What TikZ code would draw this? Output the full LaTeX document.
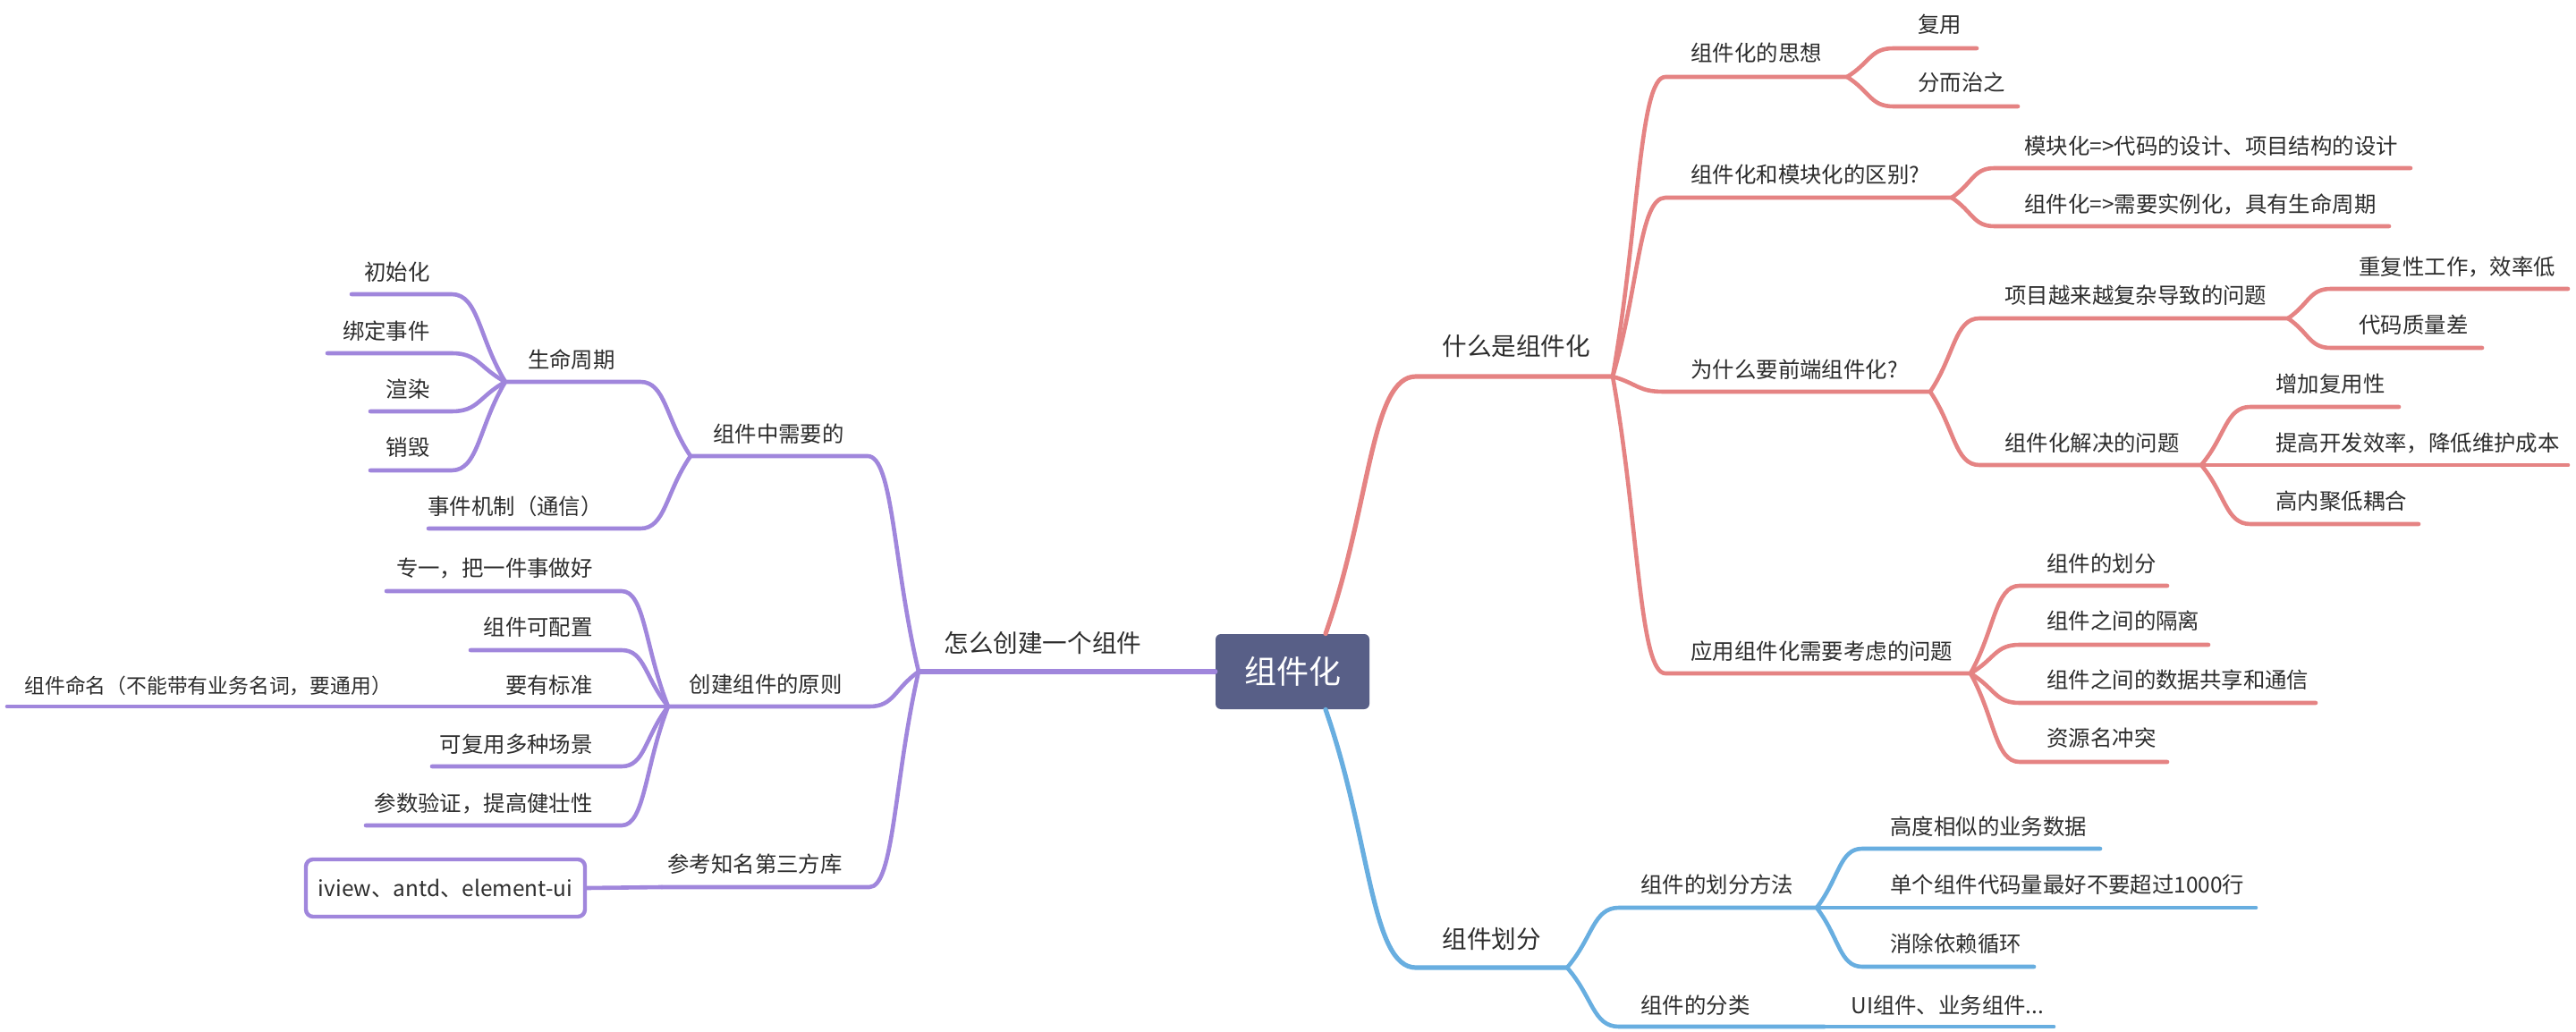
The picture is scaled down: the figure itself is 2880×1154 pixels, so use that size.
\documentclass[tikz,border=0pt]{standalone}
\usepackage{fontspec}
\setmainfont{Noto Sans CJK SC}
\usetikzlibrary{calc}
\definecolor{cred}{RGB}{229,131,131}
\definecolor{cblue}{RGB}{104,174,224}
\definecolor{cpurp}{RGB}{160,134,220}
\definecolor{croot}{RGB}{88,95,135}
\definecolor{ctext}{RGB}{45,45,45}
\tikzset{
  lab/.style={inner sep=0pt, text height=0.88em, text depth=0.12em, text=ctext, font=\fontsize{12.2}{15}\selectfont},
  labA/.style={lab, font=\fontsize{13.8}{17}\selectfont},
  rootbox/.style={fill=croot, rounded corners=3pt, minimum width=86pt, minimum height=42pt, inner sep=0pt, text=white, font=\fontsize{18}{22}\selectfont},
  libbox/.style={draw=cpurp, line width=2.2pt, fill=white, rounded corners=4pt, minimum width=156pt, minimum height=32pt, inner sep=0pt, text=ctext, font=\fontsize{12.2}{15}\selectfont},
  redA/.style={draw=cred, line width=2.6pt},
  redB/.style={draw=cred, line width=2.3pt},
  blueA/.style={draw=cblue, line width=2.6pt},
  blueB/.style={draw=cblue, line width=2.3pt},
  purA/.style={draw=cpurp, line width=2.8pt},
  purB/.style={draw=cpurp, line width=2.3pt},
}
\newcommand\mmconn[4]{\draw[#1] (#2) .. controls ($(#2)!0.5!(#3)$) and ($(#3)!0.5!(#2|-#3)$) .. (#3) -- (#4);}
\begin{document}
\begin{tikzpicture}[x=0.5pt,y=-0.5pt, line cap=round, line join=round]
\useasboundingbox[fill=white] (0,0) rectangle (2880,1154);

% root
\node[rootbox] (root) at (1445,751) {组件化};
\coordinate (rootT) at ($(root.north)+(37,0)$);
\coordinate (rootB) at ($(root.south)+(37,0)$);

% ---------------- red branch ----------------
\coordinate (r0s) at (1583,421); \coordinate (rJ) at (1803,421);
\mmconn{redA}{rootT}{r0s}{rJ}
\node[labA, anchor=west] (r0l) at (1612,390) {什么是组件化};

\coordinate (r1s) at (1862,86);  \coordinate (r1e) at (2065,86);
\coordinate (r2s) at (1862,221); \coordinate (r2e) at (2182,221);
\coordinate (r3s) at (1860,438); \coordinate (r3e) at (2158,438);
\coordinate (r4s) at (1862,753); \coordinate (r4e) at (2203,753);
\mmconn{redB}{rJ}{r1s}{r1e}
\mmconn{redB}{rJ}{r2s}{r2e}
\mmconn{redB}{rJ}{r3s}{r3e}
\mmconn{redB}{rJ}{r4s}{r4e}
\node[lab, anchor=west] (r1l) at (1890,61) {组件化的思想};
\node[lab, anchor=west] (r2l) at (1890,197) {组件化和模块化的区别?};
\node[lab, anchor=west] (r3l) at (1890,415) {为什么要前端组件化?};
\node[lab, anchor=west] (r4l) at (1890,730) {应用组件化需要考虑的问题};

\coordinate (r11s) at (2117,54);  \coordinate (r11e) at (2210,54);
\coordinate (r12s) at (2117,119); \coordinate (r12e) at (2256,119);
\mmconn{redB}{r1e}{r11s}{r11e}
\mmconn{redB}{r1e}{r12s}{r12e}
\node[lab, anchor=west] (r11l) at (2144,29) {复用};
\node[lab, anchor=west] (r12l) at (2144,94) {分而治之};

\coordinate (r21s) at (2230,188); \coordinate (r21e) at (2695,188);
\coordinate (r22s) at (2230,253); \coordinate (r22e) at (2671,253);
\mmconn{redB}{r2e}{r21s}{r21e}
\mmconn{redB}{r2e}{r22s}{r22e}
\node[lab, anchor=west] (r21l) at (2263,165) {模块化=>代码的设计、项目结构的设计};
\node[lab, anchor=west] (r22l) at (2263,230) {组件化=>需要实例化，具有生命周期};

\coordinate (r31s) at (2213,356); \coordinate (r31e) at (2558,356);
\coordinate (r32s) at (2213,520); \coordinate (r32e) at (2461,520);
\mmconn{redB}{r3e}{r31s}{r31e}
\mmconn{redB}{r3e}{r32s}{r32e}
\node[lab, anchor=west] (r31l) at (2241,332) {项目越来越复杂导致的问题};
\node[lab, anchor=west] (r32l) at (2241,497) {组件化解决的问题};

\coordinate (r311s) at (2606,323); \coordinate (r311e) at (2871,323);
\coordinate (r312s) at (2606,389); \coordinate (r312e) at (2775,389);
\mmconn{redB}{r31e}{r311s}{r311e}
\mmconn{redB}{r31e}{r312s}{r312e}
\node[lab, anchor=west] (r311l) at (2637,300) {重复性工作，效率低};
\node[lab, anchor=west] (r312l) at (2637,365) {代码质量差};

\coordinate (r321s) at (2516,455); \coordinate (r321e) at (2682,455);
\coordinate (r322s) at (2516,520); \coordinate (r322e) at (2871,520);
\coordinate (r323s) at (2516,586); \coordinate (r323e) at (2704,586);
\mmconn{redB}{r32e}{r321s}{r321e}
\mmconn{redB}{r32e}{r322s}{r322e}
\mmconn{redB}{r32e}{r323s}{r323e}
\node[lab, anchor=west] (r321l) at (2544,431) {增加复用性};
\node[lab, anchor=west] (r322l) at (2544,497) {提高开发效率，降低维护成本};
\node[lab, anchor=west] (r323l) at (2544,562) {高内聚低耦合};

\coordinate (r41s) at (2258,655); \coordinate (r41e) at (2423,655);
\coordinate (r42s) at (2258,721); \coordinate (r42e) at (2469,721);
\coordinate (r43s) at (2258,786); \coordinate (r43e) at (2589,786);
\coordinate (r44s) at (2258,852); \coordinate (r44e) at (2423,852);
\mmconn{redB}{r4e}{r41s}{r41e}
\mmconn{redB}{r4e}{r42s}{r42e}
\mmconn{redB}{r4e}{r43s}{r43e}
\mmconn{redB}{r4e}{r44s}{r44e}
\node[lab, anchor=west] (r41l) at (2288,632) {组件的划分};
\node[lab, anchor=west] (r42l) at (2288,696) {组件之间的隔离};
\node[lab, anchor=west] (r43l) at (2288,762) {组件之间的数据共享和通信};
\node[lab, anchor=west] (r44l) at (2288,827) {资源名冲突};

% ---------------- blue branch ----------------
\coordinate (b0s) at (1583,1082); \coordinate (bJ) at (1752,1082);
\mmconn{blueA}{rootB}{b0s}{bJ}
\node[labA, anchor=west] (b0l) at (1612,1053) {组件划分};

\coordinate (b1s) at (1810,1015); \coordinate (b1e) at (2031,1015);
\coordinate (b2s) at (1810,1148); \coordinate (b2e) at (2040,1148);
\mmconn{blueB}{bJ}{b1s}{b1e}
\mmconn{blueB}{bJ}{b2s}{b2e}
\node[lab, anchor=west] (b1l) at (1834,991) {组件的划分方法};
\node[lab, anchor=west] (b2l) at (1834,1126) {组件的分类};

\coordinate (b11s) at (2082,949);  \coordinate (b11e) at (2348,949);
\coordinate (b12s) at (2082,1015); \coordinate (b12e) at (2522,1015);
\coordinate (b13s) at (2082,1081); \coordinate (b13e) at (2274,1081);
\mmconn{blueB}{b1e}{b11s}{b11e}
\mmconn{blueB}{b1e}{b12s}{b12e}
\mmconn{blueB}{b1e}{b13s}{b13e}
\node[lab, anchor=west] (b11l) at (2113,926) {高度相似的业务数据};
\node[lab, anchor=west] (b12l) at (2113,991) {单个组件代码量最好不要超过1000行};
\node[lab, anchor=west] (b13l) at (2113,1057) {消除依赖循环};

\coordinate (b21e) at (2296,1148);
\draw[blueB] (b2e) -- (b21e);
\node[lab, anchor=west] (b21l) at (2069,1126) {UI组件、业务组件...};

% ---------------- purple branch ----------------
\coordinate (pJ) at (1027,751);
\draw[purA] (root.west) -- (pJ);
\node[labA, anchor=west] (p0l) at (1055,722) {怎么创建一个组件};

\coordinate (p1s) at (970,510); \coordinate (p1e) at (772,510);
\coordinate (p2s) at (972,790); \coordinate (p2e) at (747,790);
\coordinate (p3s) at (972,992); \coordinate (p3e) at (740,992);
\mmconn{purB}{pJ}{p1s}{p1e}
\mmconn{purB}{pJ}{p2s}{p2e}
\mmconn{purB}{pJ}{p3s}{p3e}
\node[lab, anchor=east] (p1l) at (944,487) {组件中需要的};
\node[lab, anchor=east] (p2l) at (942,767) {创建组件的原则};
\node[lab, anchor=east] (p3l) at (942,968) {参考知名第三方库};

\coordinate (p11s) at (716,427); \coordinate (p11e) at (565,427);
\coordinate (p12s) at (716,591); \coordinate (p12e) at (479,591);
\mmconn{purB}{p1e}{p11s}{p11e}
\mmconn{purB}{p1e}{p12s}{p12e}
\node[lab, anchor=east] (p11l) at (688,404) {生命周期};
\node[lab, anchor=east] (p12l) at (674,568) {事件机制（通信）};

\coordinate (p111s) at (505,329); \coordinate (p111e) at (393,329);
\coordinate (p112s) at (505,395); \coordinate (p112e) at (366,395);
\coordinate (p113s) at (505,460); \coordinate (p113e) at (414,460);
\coordinate (p114s) at (505,526); \coordinate (p114e) at (414,526);
\mmconn{purB}{p11e}{p111s}{p111e}
\mmconn{purB}{p11e}{p112s}{p112e}
\mmconn{purB}{p11e}{p113s}{p113e}
\mmconn{purB}{p11e}{p114s}{p114e}
\node[lab, anchor=east] (p111l) at (481,306) {初始化};
\node[lab, anchor=east] (p112l) at (481,372) {绑定事件};
\node[lab, anchor=east] (p113l) at (481,437) {渲染};
\node[lab, anchor=east] (p114l) at (481,502) {销毁};

\coordinate (p21s) at (695,661); \coordinate (p21e) at (432,661);
\coordinate (p22s) at (695,727); \coordinate (p22e) at (526,727);
\coordinate (p23s) at (695,790); \coordinate (p23e) at (545,790);
\coordinate (p24s) at (695,857); \coordinate (p24e) at (483,857);
\coordinate (p25s) at (695,923); \coordinate (p25e) at (409,923);
\mmconn{purB}{p2e}{p21s}{p21e}
\mmconn{purB}{p2e}{p22s}{p22e}
\mmconn{purB}{p2e}{p23s}{p23e}
\mmconn{purB}{p2e}{p24s}{p24e}
\mmconn{purB}{p2e}{p25s}{p25e}
\node[lab, anchor=east] (p21l) at (663,637) {专一，把一件事做好};
\node[lab, anchor=east] (p22l) at (663,703) {组件可配置};
\node[lab, anchor=east] (p23l) at (663,768) {要有标准};
\node[lab, anchor=east] (p24l) at (663,834) {可复用多种场景};
\node[lab, anchor=east] (p25l) at (663,900) {参数验证，提高健壮性};

\coordinate (p231e) at (8,790);
\draw[purB] (p23e) -- (p231e);
\node[lab, anchor=west, font=\fontsize{11.4}{14}\selectfont] (p231l) at (27,768) {组件命名（不能带有业务名词，要通用）};

\node[libbox] (p31) at (498,993) {iview、antd、element-ui};
\draw[purB] (p3e) -- (p31.east);
\end{tikzpicture}
\end{document}
